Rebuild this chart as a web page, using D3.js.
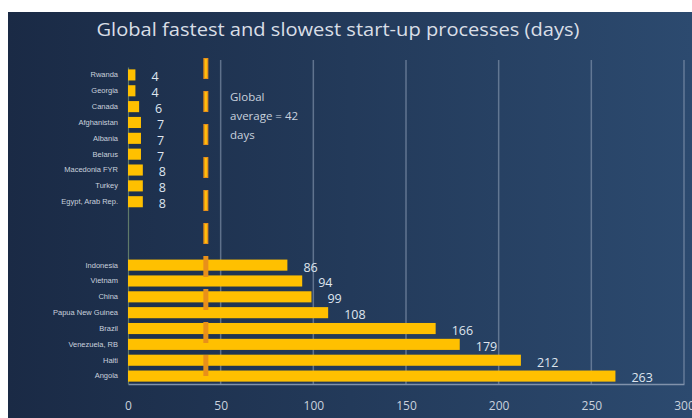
<!DOCTYPE html>
<html><head><meta charset="utf-8">
<script src="https://cdn.jsdelivr.net/npm/d3@7/dist/d3.min.js"></script>
<style>html,body{margin:0;padding:0;background:#fff;}svg{display:block;}</style>
</head><body>
<script>
const fastCountries = ["Rwanda","Georgia","Canada","Afghanistan","Albania","Belarus","Macedonia FYR","Turkey","Egypt, Arab Rep."];
const fastDays = [4,4,6,7,7,7,8,8,8];
const slowCountries = ["Indonesia","Vietnam","China","Papua New Guinea","Brazil","Venezuela, RB","Haiti","Angola"];
const slowDays = [86,94,99,108,166,179,212,263];
const gapRows = ["gap1","gap2","gap3"];
const xTicks = [0,50,100,150,200,250,300];
const globalAverage = 42;
const titleText = "Global fastest and slowest start-up processes (days)";
const avgLabel = ["Global","average = 42","days"];

const W = 692, H = 418;
const svg = d3.select("body").append("svg").attr("width", W).attr("height", H);
const defs = svg.append("defs");
const grad = defs.append("linearGradient").attr("id","bg").attr("x1","0").attr("x2","1").attr("y1","0").attr("y2","0");
grad.append("stop").attr("offset","0").attr("stop-color","#1a2a45");
grad.append("stop").attr("offset","1").attr("stop-color","#2c4a6f");
svg.append("rect").attr("x",8).attr("y",12).attr("width",W-8).attr("height",H-12).attr("fill","url(#bg)");

svg.append("text").attr("x",338).attr("y",36).attr("text-anchor","middle")
  .attr("font-family","'Open Sans', sans-serif").attr("font-size",18).attr("fill","#d9dee6")
  .attr("textLength",483).attr("lengthAdjust","spacingAndGlyphs").text(titleText);

const rows = [];
fastCountries.forEach((c,i)=>rows.push({key:c,label:c,value:fastDays[i]}));
gapRows.forEach(g=>rows.push({key:g,label:"",value:null}));
slowCountries.forEach((c,i)=>rows.push({key:c,label:c,value:slowDays[i]}));

const x = d3.scaleLinear().domain([0,300]).range([128,684]);
const y = d3.scaleBand().domain(rows.map(r=>r.key)).range([67,384]).paddingInner(0.3).paddingOuter(0.15);

// gridlines
svg.append("g").selectAll("line").data(xTicks.filter(t=>t>0)).join("line")
  .attr("x1",d=>x(d)).attr("x2",d=>x(d)).attr("y1",60).attr("y2",384)
  .attr("stroke","#8b9bb3").attr("stroke-opacity",0.6).attr("stroke-width",1.5);

// x axis
const xAxis = svg.append("g").attr("transform","translate(0,384)")
  .call(d3.axisBottom(x).tickValues(xTicks).tickSize(0).tickPadding(17));
xAxis.select(".domain").attr("stroke","#8192ab").attr("stroke-width",1.5);
xAxis.selectAll("text").attr("fill","#c9d1dd").attr("font-family","'Open Sans', sans-serif").attr("font-size",12);

// y axis
const yAxis = svg.append("g").attr("transform","translate(128,0)")
  .call(d3.axisLeft(y).tickSize(0).tickPadding(10).tickFormat(k=>{const r=rows.find(r=>r.key===k);return r?r.label:"";}));
yAxis.select(".domain").attr("stroke","#5f7a6a").attr("stroke-width",1.2);
yAxis.selectAll("text").attr("fill","#c9d1dd").attr("font-family","'Liberation Sans', sans-serif").attr("font-size",7.5);

const data = rows.filter(r=>r.value!==null);
svg.append("g").selectAll("rect").data(data).join("rect")
  .attr("x",x(0)).attr("y",d=>y(d.key)).attr("width",d=>x(d.value)-x(0)).attr("height",y.bandwidth())
  .attr("fill","#ffc000");

svg.append("g").selectAll("text").data(data).join("text")
  .attr("x",d=>x(d.value)+16).attr("y",d=>y(d.key)+y.bandwidth()/2+2).attr("dy","0.35em")
  .attr("font-family","'Open Sans', sans-serif").attr("font-size",12.5).attr("fill","#dfe5ee")
  .text(d=>d.value);

// average dashed line
const ax = x(globalAverage);
svg.append("line").attr("x1",ax).attr("x2",ax).attr("y1",58).attr("y2",384)
  .attr("stroke","#e8901a").attr("stroke-width",5).attr("stroke-dasharray","21,12");
svg.append("line").attr("x1",ax).attr("x2",ax).attr("y1",59).attr("y2",250)
  .attr("stroke","#ffc20a").attr("stroke-width",2).attr("stroke-dasharray","19,14");

const at = svg.append("text").attr("font-family","'Open Sans', sans-serif").attr("font-size",11.5).attr("fill","#c9d1dd");
avgLabel.forEach((t,i)=>at.append("tspan").attr("x",230).attr("y",101+i*19).text(t));
</script>
</body></html>
